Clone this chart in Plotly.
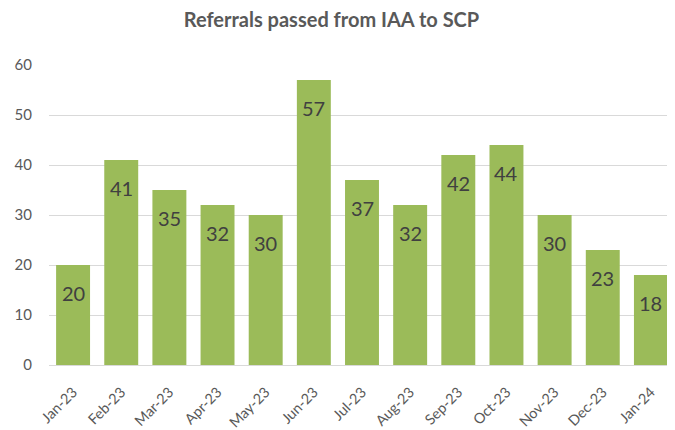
import plotly.graph_objects as go

months = ["Jan-23", "Feb-23", "Mar-23", "Apr-23", "May-23", "Jun-23", "Jul-23",
          "Aug-23", "Sep-23", "Oct-23", "Nov-23", "Dec-23", "Jan-24"]
referrals = [20, 41, 35, 32, 30, 57, 37, 32, 42, 44, 30, 23, 18]
y_ticks = [0, 10, 20, 30, 40, 50, 60]

FONT = "Lato, Open Sans, sans-serif"

fig = go.Figure(go.Bar(
    x=months, y=referrals,
    marker=dict(color="#9BBB59", line=dict(width=0)),
    hoverinfo="x+y",
))

for m, v in zip(months, referrals):
    fig.add_annotation(x=m, y=v, text=str(v), showarrow=False,
                       yanchor="middle", xanchor="center", yshift=-28,
                       font=dict(size=20, color="#404040", family=FONT))

# page body has an 8px margin, so the figure is sized to fit the 675x430 window
fig.update_layout(
    width=667, height=422,
    margin=dict(l=41, r=0, t=57, b=65, autoexpand=False),
    paper_bgcolor="white", plot_bgcolor="white",
    title=dict(text="<b>Referrals passed from IAA to SCP</b>", x=0.485, xanchor="center",
               y=1 - 12 / 422, yanchor="middle",
               font=dict(size=20, color="#595959", family=FONT)),
    bargap=0.295,
    showlegend=False,
    font=dict(family=FONT, color="#595959"),
)
fig.update_yaxes(range=[0, 60], tickvals=y_ticks, showgrid=True, gridcolor="#D9D9D9",
                 gridwidth=1, zeroline=False, showline=False,
                 tickfont=dict(size=15, color="#595959"), ticks="",
                 ticklabelstandoff=16)
fig.update_xaxes(tickangle=-45, showline=True, linecolor="#D9D9D9", linewidth=1,
                 tickfont=dict(size=14.5, color="#595959"), ticks="",
                 ticklabelstandoff=12)

fig.write_html("out.html")
